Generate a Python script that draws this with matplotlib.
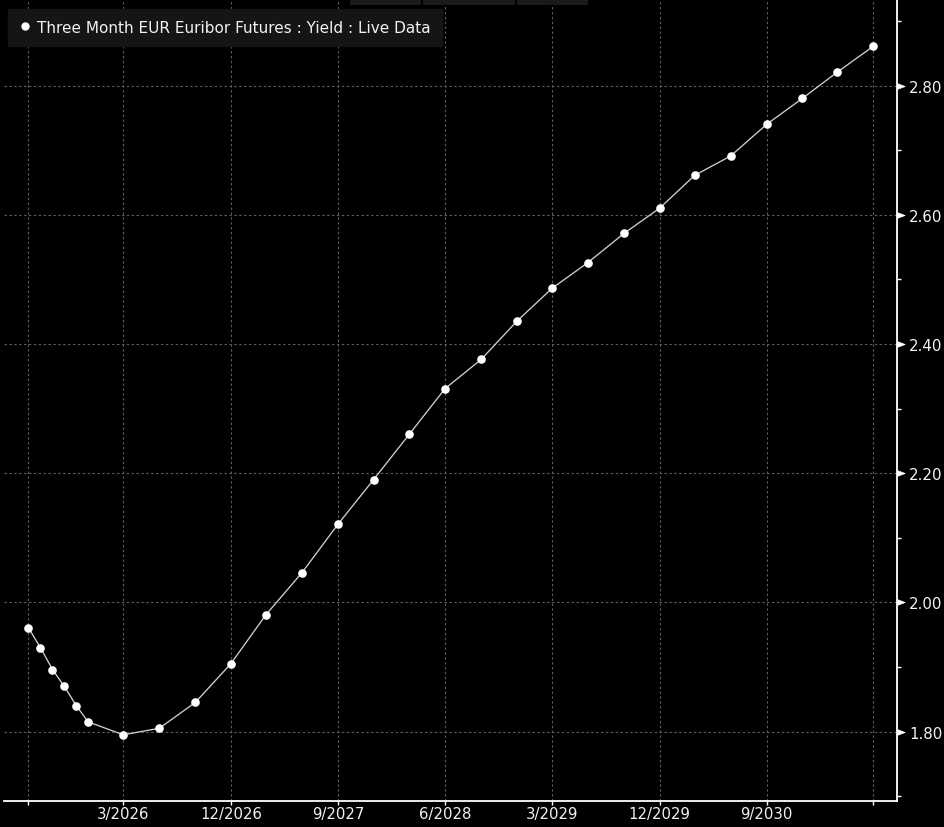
import matplotlib
matplotlib.use("Agg")
import matplotlib.pyplot as plt
import matplotlib.dates as mdates
from matplotlib.lines import Line2D
from matplotlib.patches import Rectangle
from matplotlib.path import Path
from matplotlib.markers import MarkerStyle
import numpy as np
import datetime as dt

# ---- data ----
contract_months = ["2025-07", "2025-08", "2025-09", "2025-10", "2025-11", "2025-12",
                   "2026-03", "2026-06", "2026-09", "2026-12",
                   "2027-03", "2027-06", "2027-09", "2027-12",
                   "2028-03", "2028-06", "2028-09", "2028-12",
                   "2029-03", "2029-06", "2029-09", "2029-12",
                   "2030-03", "2030-06", "2030-09", "2030-12",
                   "2031-03", "2031-06"]
yields = [1.961, 1.930, 1.896, 1.870, 1.840, 1.815,
          1.795, 1.805, 1.845, 1.905,
          1.981, 2.046, 2.121, 2.190,
          2.260, 2.331, 2.376, 2.435,
          2.486, 2.526, 2.571, 2.610,
          2.661, 2.691, 2.740, 2.780,
          2.821, 2.861]
series_label = "Three Month EUR Euribor Futures : Yield : Live Data"
labeled_ticks = ["2026-03", "2026-12", "2027-09", "2028-06", "2029-03", "2029-12", "2030-09"]
y_major = [1.80, 2.00, 2.20, 2.40, 2.60, 2.80]

def to_date(s):
    y, m = s.split("-")
    return dt.date(int(y), int(m), 1)

dates = [to_date(s) for s in contract_months]

W, H = 945, 828
fig = plt.figure(figsize=(W / 100, H / 100), dpi=100, facecolor="black")
ax = fig.add_axes([4 / W, 1 - 802.3 / H, (897.3 - 4) / W, 802.3 / H])
ax.set_facecolor("black")

# line + markers
ax.plot(dates, yields, color="#cfcfcf", lw=0.95, zorder=3)
ax.plot(dates, yields, linestyle="none", marker="o", ms=6.2,
        mfc="white", mec="white", mew=0, zorder=4)

# limits
x0 = mdates.date2num(dates[0]) - 62
x1 = mdates.date2num(dates[-1]) + 61
ax.set_xlim(x0, x1)
ax.set_ylim(1.692, 2.934)

# x ticks: first/last data point (unlabeled) + labeled ticks
tick_dates = [dates[0]] + [to_date(s) for s in labeled_ticks] + [dates[-1]]
tick_labels = [""] + [f"{to_date(s).month}/{to_date(s).year}" for s in labeled_ticks] + [""]
ax.set_xticks([mdates.date2num(d) for d in tick_dates])
ax.set_xticklabels(tick_labels)

# y ticks on right
ax.yaxis.tick_right()
ax.set_yticks(y_major)
ax.set_yticklabels([f"{v:.2f}" for v in y_major])
ax.set_yticks(np.arange(1.70, 2.95, 0.2), minor=True)

txt_color = "#f2f2f2"
ax.tick_params(axis="x", which="major", direction="out", length=3.2, width=1,
               color="white", labelcolor=txt_color, labelsize=10.7, pad=0.5)
ax.tick_params(axis="y", which="major", direction="out", length=6, width=1,
               color="white", labelcolor=txt_color, labelsize=10.8, pad=2.5,
               left=False, right=True)
ax.tick_params(axis="y", which="minor", direction="out", length=3, width=1,
               color="white", left=False, right=True)

tri = MarkerStyle(Path([(0, -0.38), (1, 0), (0, 0.38), (0, -0.38)],
                       [Path.MOVETO, Path.LINETO, Path.LINETO, Path.CLOSEPOLY]))
for t in ax.yaxis.get_major_ticks():
    t.tick2line.set_marker(tri)
    t.tick2line.set_markersize(11)
    t.tick2line.set_markerfacecolor("white")
    t.tick2line.set_markeredgecolor("white")
    t.tick2line.set_markeredgewidth(0.5)

# spines
for s in ["left", "top"]:
    ax.spines[s].set_visible(False)
for s in ["bottom", "right"]:
    ax.spines[s].set_color("white")
    ax.spines[s].set_linewidth(1.3)

# grid
ax.grid(True, which="major", color="#5c5c5c", linestyle=(0, (2.2, 2.2)), linewidth=0.8)
ax.set_axisbelow(True)

# legend
handle = Line2D([], [], linestyle="none", marker="o", ms=6.0, mfc="white", mec="white", mew=0)
leg = ax.legend([handle], [series_label], loc="upper left",
                bbox_to_anchor=(8 / W, 1 - 9.5 / H), bbox_transform=fig.transFigure,
                borderaxespad=0, frameon=True, fancybox=False, facecolor="#151515",
                edgecolor="#151515", framealpha=1, fontsize=11, borderpad=0.74,
                handlelength=0.7, handletextpad=0.45)
for t in leg.get_texts():
    t.set_color(txt_color)

# top tab decorations
for xa, xb in [(350, 421), (423, 515), (517, 588)]:
    fig.patches.append(Rectangle((xa / W, 1 - 6 / H), (xb - xa) / W, 6 / H,
                                 transform=fig.transFigure, facecolor="#1b1b1b",
                                 edgecolor="none", zorder=0))

fig.savefig("out.png", dpi=100, facecolor="black")
